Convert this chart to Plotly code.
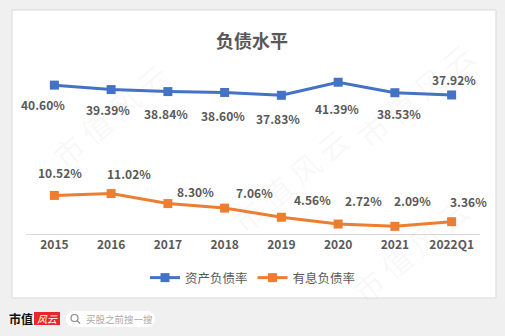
import plotly.graph_objects as go

categories = ["2015", "2016", "2017", "2018", "2019", "2020", "2021", "2022Q1"]
asset_ratio = [40.60, 39.39, 38.84, 38.60, 37.83, 41.39, 38.53, 37.92]
interest_ratio = [10.52, 11.02, 8.30, 7.06, 4.56, 2.72, 2.09, 3.36]
series_names = ["资产负债率", "有息负债率"]
title_text = "负债水平"

BLUE = "#4472C4"
ORANGE = "#ED7D31"
TXT = "#595959"
FONT = "Noto Sans CJK SC, Noto Sans, sans-serif"

W, H = 505, 336
L, R, T, B = 26, 25, 69, 102
PW, PH = W - L - R, H - T - B


def px(x):
    return (x - L) / PW


def py(y):
    return (H - B - y) / PH


fig = go.Figure()
fig.add_trace(go.Scatter(
    x=categories, y=asset_ratio, name=series_names[0], mode="lines+markers",
    line=dict(color=BLUE, width=3), marker=dict(symbol="square", size=9, color=BLUE),
    hoverinfo="skip"))
fig.add_trace(go.Scatter(
    x=categories, y=interest_ratio, name=series_names[1], mode="lines+markers",
    line=dict(color=ORANGE, width=3), marker=dict(symbol="square", size=9, color=ORANGE),
    hoverinfo="skip"))

# label offsets (styling only, pixels)
blue_dx = [-11, -3, -2, -2, -3, -1, 4, 2]
blue_dy = [-19, -20, -22, -23, -23, -26, -21, 15]
orange_dx = [6, 18, 28, 30, 31, 25, 18, 17]
orange_dy = [23, 20, 12, 16, 18, 24, 26, 20]

ann = []
for i, (v, dx, dy) in enumerate(zip(asset_ratio, blue_dx, blue_dy)):
    ann.append(dict(x=i, y=v, xref="x", yref="y", text=f"<b>{v:.2f}%</b>", showarrow=False,
                    xshift=dx, yshift=dy, yanchor="middle", xanchor="center",
                    font=dict(family=FONT, size=12, color=TXT)))
for i, (v, dx, dy) in enumerate(zip(interest_ratio, orange_dx, orange_dy)):
    ann.append(dict(x=i, y=v, xref="x", yref="y", text=f"<b>{v:.2f}%</b>", showarrow=False,
                    xshift=dx, yshift=dy, yanchor="middle", xanchor="center",
                    font=dict(family=FONT, size=12, color=TXT)))

# title
ann.append(dict(x=px(252), y=py(40), xref="paper", yref="paper", text=f"<b>{title_text}</b>",
                showarrow=False, yanchor="middle", xanchor="center",
                font=dict(family=FONT, size=18, color=TXT)))

# watermarks
for (wx, wy) in [(110, 115), (290, 180), (415, 95), (410, 250)]:
    ann.append(dict(x=px(wx), y=py(wy), xref="paper", yref="paper", text="市 值 风 云",
                    showarrow=False, textangle=-40, yanchor="middle", xanchor="center",
                    font=dict(family=FONT, size=30, color="rgba(150,150,150,0.07)")))

# footer
ann.append(dict(x=px(21), y=py(318), xref="paper", yref="paper", text="<b>市值</b>",
                showarrow=False, yanchor="middle", xanchor="center",
                font=dict(family="Noto Sans CJK SC", size=12, color="#111111")))
ann.append(dict(x=px(47), y=py(318.5), xref="paper", yref="paper", text="<i>风云</i>",
                showarrow=False, yanchor="middle", xanchor="center",
                font=dict(family="Noto Sans CJK SC", size=10, color="#ffffff")))
ann.append(dict(x=px(84), y=py(319), xref="paper", yref="paper", text="买股之前搜一搜",
                xanchor="left", yanchor="middle", showarrow=False,
                font=dict(family="Noto Sans CJK SC", size=9.5, color="#aaaaaa")))

shapes = []
# white chart box
shapes.append(dict(type="rect", xref="paper", yref="paper", layer="below",
                   x0=px(12), y0=py(10), x1=px(496), y1=py(298),
                   fillcolor="#ffffff", line=dict(color="#d9d9d9", width=1)))
# red logo box
shapes.append(dict(type="rect", xref="paper", yref="paper", layer="below",
                   x0=px(34), y0=py(312), x1=px(60), y1=py(325),
                   fillcolor="#e8262b", line=dict(width=0)))
# search pill (rect + round ends)
shapes.append(dict(type="rect", xref="paper", yref="paper", layer="below",
                   x0=px(74), y0=py(311), x1=px(147), y1=py(327),
                   fillcolor="#ffffff", line=dict(width=0)))
shapes.append(dict(type="circle", xref="paper", yref="paper", layer="below",
                   x0=px(66), y0=py(311), x1=px(82), y1=py(327),
                   fillcolor="#ffffff", line=dict(width=0)))
shapes.append(dict(type="circle", xref="paper", yref="paper", layer="below",
                   x0=px(139), y0=py(311), x1=px(155), y1=py(327),
                   fillcolor="#ffffff", line=dict(width=0)))
# search icon
shapes.append(dict(type="circle", xref="paper", yref="paper",
                   x0=px(71), y0=py(314.5), x1=px(78), y1=py(321.5),
                   line=dict(color="#888888", width=1.2)))
shapes.append(dict(type="line", xref="paper", yref="paper",
                   x0=px(77), y0=py(320.5), x1=px(80), y1=py(323.5),
                   line=dict(color="#888888", width=1.2)))

fig.update_layout(
    width=W, height=H, margin=dict(l=L, r=R, t=T, b=B),
    paper_bgcolor="#f0f0f0", plot_bgcolor="rgba(0,0,0,0)",
    showlegend=True,
    legend=dict(orientation="h", x=0.5, xanchor="center", y=py(278), yanchor="middle",
                font=dict(family=FONT, size=12.5, color=TXT), itemwidth=30,
                bgcolor="rgba(0,0,0,0)", tracegroupgap=0),
    xaxis=dict(type="category", range=[-0.5, 7.5], showgrid=False, zeroline=False,
               showline=True, linecolor="#d9d9d9", linewidth=1, ticks="",
               tickfont=dict(family=FONT, size=12, color=TXT, weight="bold"), fixedrange=True),
    yaxis=dict(range=[0, 45], visible=False, showgrid=False, fixedrange=True),
    annotations=ann, shapes=shapes,
)

fig.write_html("out.html")
